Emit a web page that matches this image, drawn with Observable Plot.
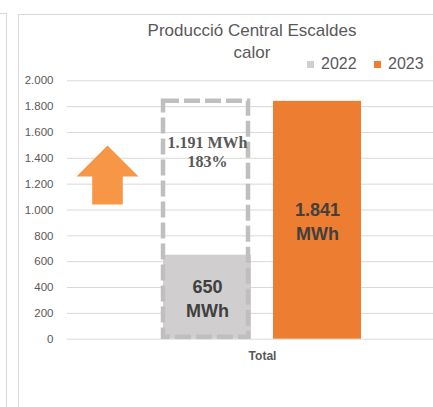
<!DOCTYPE html>
<html>
<head>
<meta charset="utf-8">
<script src="https://cdn.jsdelivr.net/npm/d3@7"></script>
<script src="https://cdn.jsdelivr.net/npm/@observablehq/plot@0.6"></script>
<style>
  html, body { margin: 0; padding: 0; background: #fff; overflow: hidden; }
  #wrap { position: relative; width: 433px; height: 407px; overflow: hidden; font-family: "Liberation Sans", Arial, sans-serif; }
  #chart { position: absolute; left: 0; top: 0; width: 470px; }
  #chart svg { max-width: none !important; width: 470px; height: 407px; }
  .line { position: absolute; background: #d9d9d9; }
  #title { position: absolute; left: 132px; width: 240px; top: 20px; text-align: center; font-size: 17px; line-height: 22px; color: #595959; }
  .leg { position: absolute; top: 56px; font-size: 16px; line-height: 16px; color: #595959; white-space: nowrap; }
  .sw { display: inline-block; width: 7px; height: 7px; margin-right: 7px; vertical-align: 1px; }
</style>
</head>
<body>
<div id="wrap">
  <div class="line" style="left:6px;top:13px;width:1px;height:394px"></div>
  <div class="line" style="left:0px;top:13px;width:6px;height:1px"></div>
  <div class="line" style="left:18px;top:14px;width:1px;height:393px"></div>
  <div class="line" style="left:18px;top:14px;width:415px;height:1px"></div>
  <div id="chart"></div>
  <div id="title"></div>
  <div id="legend"></div>
</div>
<script>
// ---- data ----
const titleLines = ["Producció Central Escaldes", "calor"];
const categories = ["Total"];
const series = ["2022", "2023"];
const values = [650, 1841];
const increase = 1191;
const increasePct = 183;
const unit = "MWh";
const yTicks = [0, 200, 400, 600, 800, 1000, 1200, 1400, 1600, 1800, 2000];
const colors = ["#d0cece", "#ed7d31"];
const arrowColor = "#f79646";

const loc = d3.formatLocale({decimal: ",", thousands: ".", grouping: [3], currency: ["", "€"]});
const fmt = loc.format(",d");

const bars = series.map((s, i) => ({series: s, value: values[i], category: categories[0]}));
const projected = [{series: series[0], value: values[0] + increase}];

// arrow symbol (custom d3 symbol)
const arrowSymbol = {
  draw(ctx, size) {
    ctx.moveTo(0, -29.5);
    ctx.lineTo(31, 1.5);
    ctx.lineTo(15.3, 1.5);
    ctx.lineTo(15.3, 29.5);
    ctx.lineTo(-15.3, 29.5);
    ctx.lineTo(-15.3, 1.5);
    ctx.lineTo(-31, 1.5);
    ctx.closePath();
  }
};

const chart = Plot.plot({
  width: 470,
  height: 407,
  marginTop: 80.3,
  marginBottom: 68.3,
  marginLeft: 67,
  marginRight: 13,
  style: {fontFamily: "Liberation Sans, Arial, sans-serif", color: "#595959", background: "transparent", maxWidth: "none"},
  x: {domain: series, paddingInner: 0.2, paddingOuter: 0.8727, axis: null},
  y: {domain: [0, 2000], axis: null},
  color: {domain: series, range: colors},
  marks: [
    Plot.gridY(yTicks, {stroke: "#d9d9d9", strokeOpacity: 1, strokeWidth: 1}),
    Plot.axisY(yTicks, {tickSize: 0, tickPadding: 14, tickFormat: fmt, fontSize: 11.5, fill: "#595959", label: null}),
    Plot.dot([increase], {frameAnchor: "left", dx: 40, dy: -35, symbol: arrowSymbol, r: 30, fill: arrowColor}),
    Plot.barY(bars, {x: "series", y: "value", fill: "series"}),
    Plot.barY(projected, {x: "series", y: "value", fill: "none", stroke: "#bfbfbf", strokeWidth: 4.5, strokeDasharray: "16,5", insetRight: 3, insetBottom: 2}),
    Plot.text(bars, {x: "series", y: d => d.value / 2, text: d => fmt(d.value) + "\n" + unit, lineAnchor: "middle", lineHeight: 1.32, fontSize: 18, fontWeight: "bold", fill: "#404040"}),
    Plot.text(projected, {x: "series", y: "value", text: () => fmt(increase) + " " + unit + "\n" + increasePct + "%", lineAnchor: "top", dy: 33, lineHeight: 1.19, fontSize: 16, fontWeight: "bold", fontFamily: "Liberation Serif, Times New Roman, serif", fill: "#595959"}),
    Plot.text(categories, {text: d => d, frameAnchor: "bottom", dy: 21, fontSize: 12, fontWeight: "bold", fill: "#595959"})
  ]
});
chart.style.maxWidth = "none";
document.getElementById("chart").appendChild(chart);

document.getElementById("title").innerHTML = titleLines.join("<br>");
const legend = document.getElementById("legend");
const legLeft = [307, 374];
series.forEach((s, i) => {
  const d = document.createElement("div");
  d.className = "leg";
  d.style.left = legLeft[i] + "px";
  d.innerHTML = `<span class="sw" style="background:${colors[i]}"></span>${s}`;
  legend.appendChild(d);
});
</script>
</body>
</html>
